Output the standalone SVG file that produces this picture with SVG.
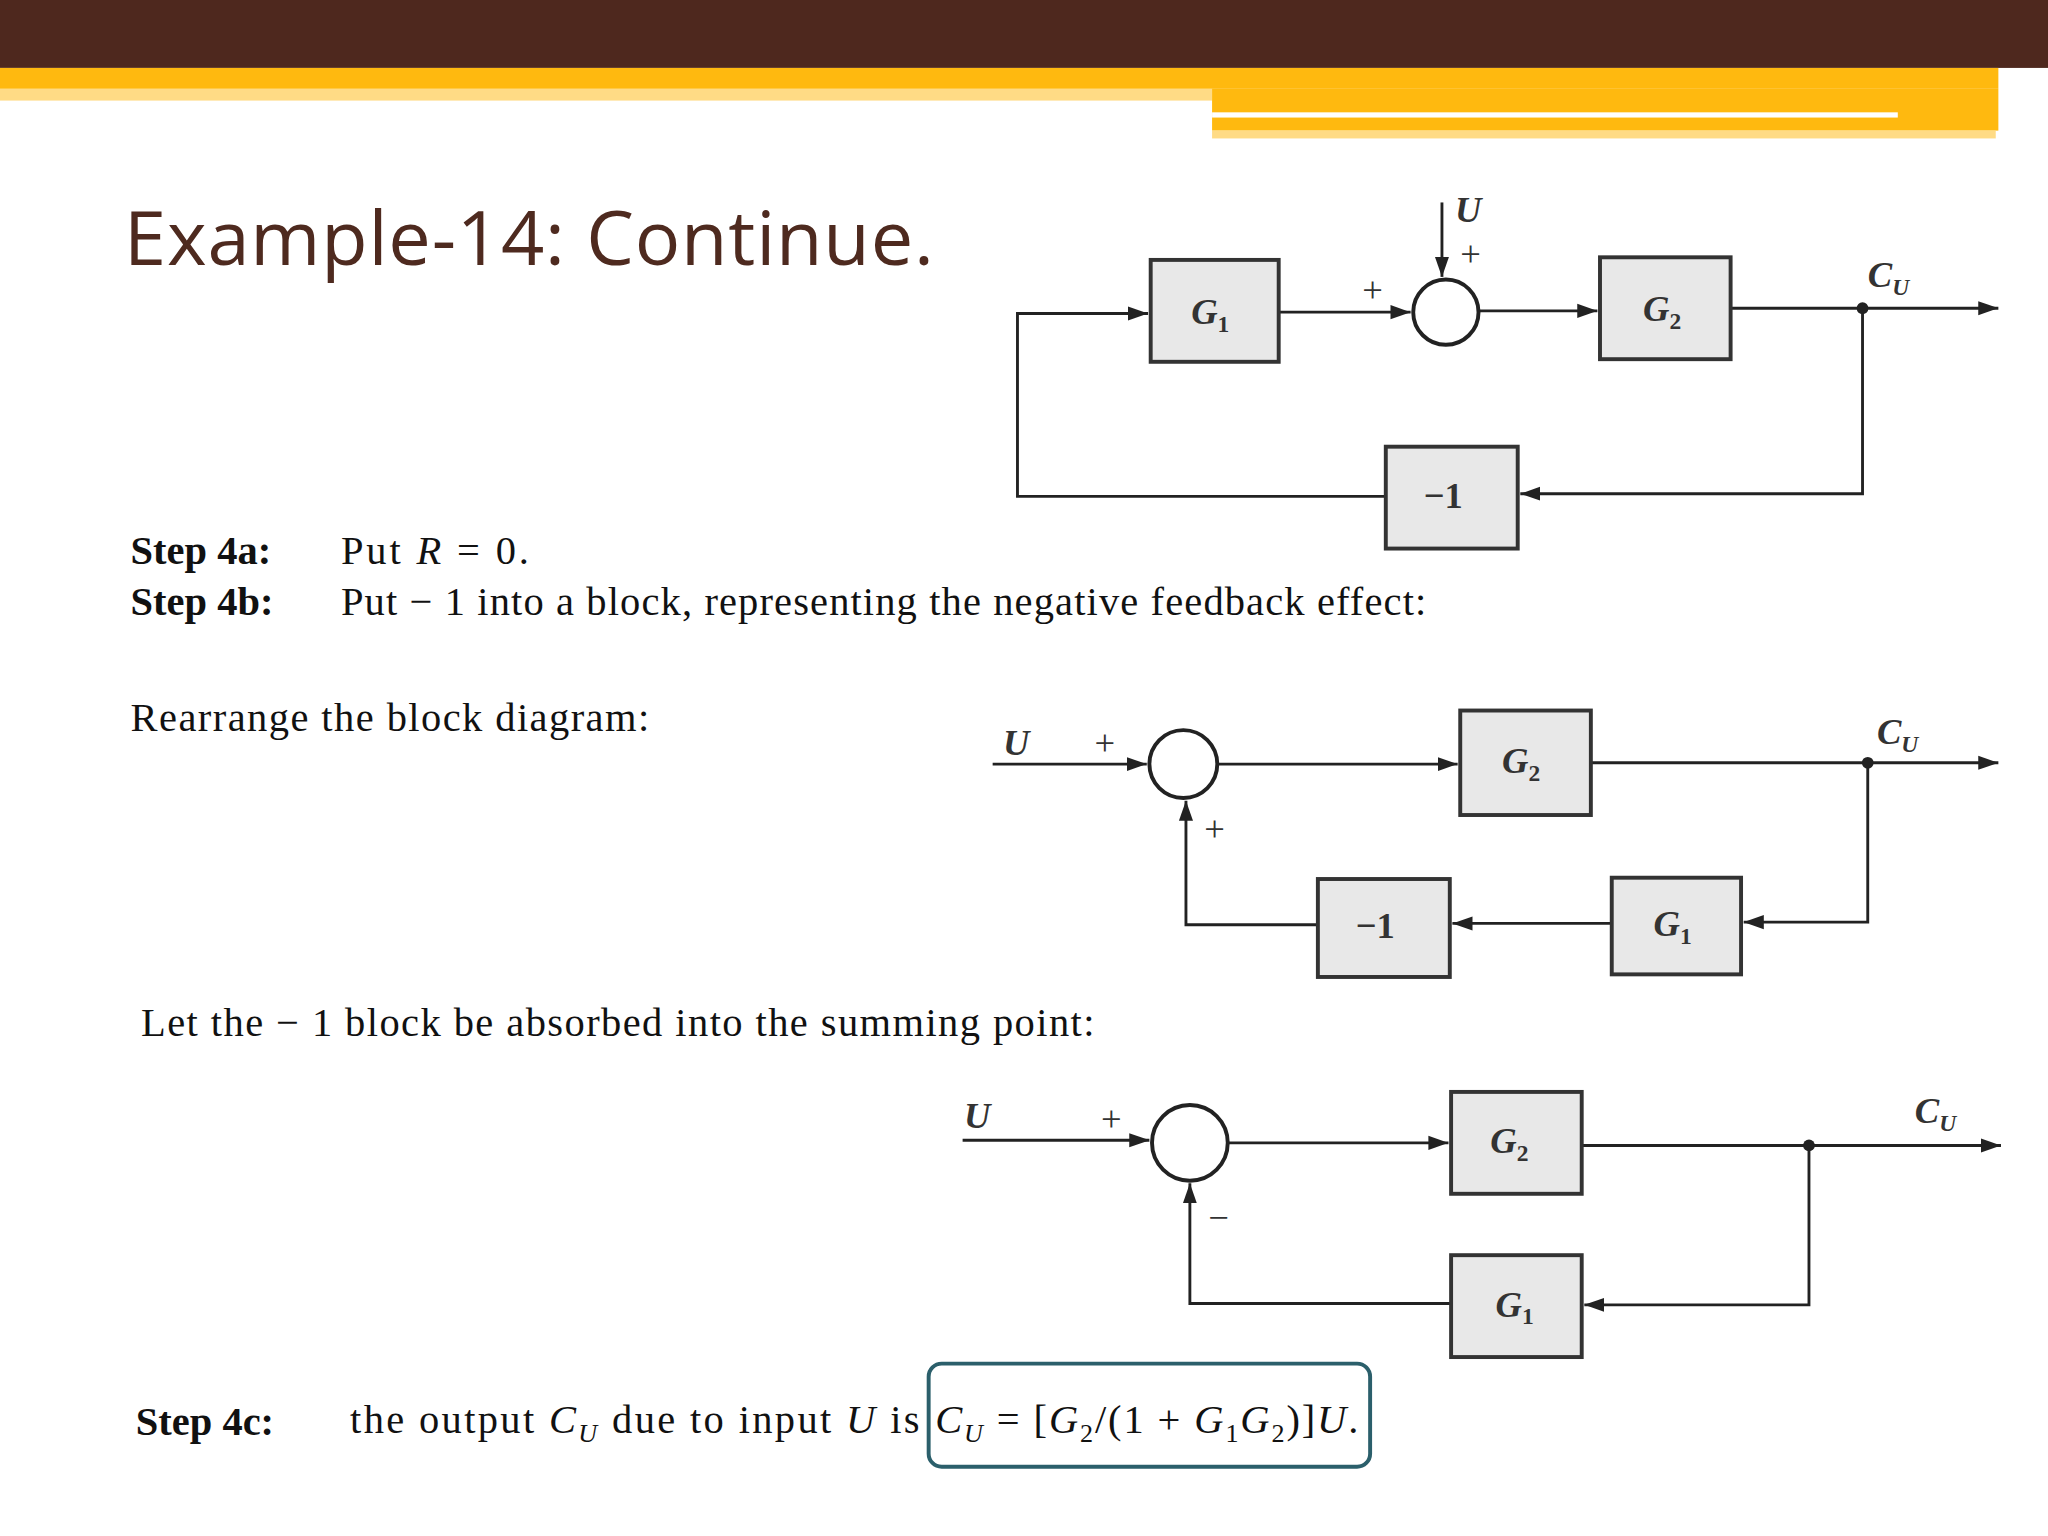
<svg xmlns="http://www.w3.org/2000/svg" width="2048" height="1536" viewBox="0 0 2048 1536">
<defs>
<marker id="a" viewBox="0 0 10 10" refX="10" refY="5" markerWidth="7" markerHeight="7" orient="auto"><path d="M0,1.5 L10,5 L0,8.5 z" fill="#222"/></marker>
<style>
.ln{fill:none;stroke:#222;stroke-width:2.2}
.bx{fill:#e8e8e8;stroke:#333;stroke-width:3}
.ci{fill:#fff;stroke:#222;stroke-width:3}
.lb{font-family:"Liberation Serif",serif;font-style:italic;font-weight:bold;font-size:28px;fill:#333}
.lb tspan.n{font-style:normal}
.sg{font-family:"Liberation Serif",serif;font-size:28px;fill:#333}
.tx{font-family:"Liberation Serif",serif;font-size:31px;fill:#111}
.st{font-family:"Liberation Serif",serif;font-size:31px;font-weight:bold;fill:#111}
</style>
</defs>
<rect width="2048" height="1536" fill="#fff"/>
<g transform="scale(1.30612)">
<g id="banner">
<rect x="0" y="0" width="1568" height="52" fill="#4e281e"/>
<rect x="0" y="52" width="1530" height="16" fill="#ffb90f"/>
<rect x="0" y="68" width="928" height="9" fill="#ffdb85"/>
<rect x="928" y="68" width="602" height="32" fill="#ffb90f"/>
<rect x="928" y="100" width="600" height="6" fill="#ffdb85"/>
<rect x="928" y="86" width="525" height="4" fill="#fff"/>
</g>
<text x="95" y="203" font-family="Open Sans, sans-serif" font-size="58" fill="#4e2a1f" textLength="620">Example-14: Continue.</text>
<g id="connectors">
<path class="ln" d="M979,239 H1080" marker-end="url(#a)"/>
<path class="ln" d="M1104,155 V212" marker-end="url(#a)"/>
<path class="ln" d="M1132,238 H1223" marker-end="url(#a)"/>
<path class="ln" d="M1325,236 H1530" marker-end="url(#a)"/>
<path class="ln" d="M1426,236 V378 H1164" marker-end="url(#a)"/>
<path class="ln" d="M1061,380 H779 V240 H879" marker-end="url(#a)"/>
<path class="ln" d="M760,585 H878" marker-end="url(#a)"/>
<path class="ln" d="M932,585 H1116" marker-end="url(#a)"/>
<path class="ln" d="M1218,584 H1530" marker-end="url(#a)"/>
<path class="ln" d="M1430,584 V706 H1335" marker-end="url(#a)"/>
<path class="ln" d="M1234,707 H1112" marker-end="url(#a)"/>
<path class="ln" d="M1009,708 H908 V613" marker-end="url(#a)"/>
<path class="ln" d="M737,873 H880" marker-end="url(#a)"/>
<path class="ln" d="M940,875 H1109" marker-end="url(#a)"/>
<path class="ln" d="M1211,877 H1532" marker-end="url(#a)"/>
<path class="ln" d="M1385,877 V999 H1213" marker-end="url(#a)"/>
<path class="ln" d="M1111,998 H911 V906" marker-end="url(#a)"/>
<circle cx="1426" cy="236" r="4.5" fill="#222"/>
<circle cx="1430" cy="584" r="4.5" fill="#222"/>
<circle cx="1385" cy="877" r="4.5" fill="#222"/>
</g>
<g id="d1">
<rect class="bx" x="881" y="199" width="98" height="78"/><text class="lb" x="912" y="248">G<tspan class="n" font-size="18" dy="6">1</tspan></text>
<circle class="ci" cx="1107" cy="239" r="25"/>
<rect class="bx" x="1225" y="197" width="100" height="78"/><text class="lb" x="1258" y="246">G<tspan class="n" font-size="18" dy="6">2</tspan></text>
<rect class="bx" x="1061" y="342" width="101" height="78"/><text class="lb" x="1090" y="389" style="font-style:normal">−1</text>
<text class="lb" x="1114" y="170">U</text><text class="sg" x="1118" y="204">+</text><text class="sg" x="1043" y="231">+</text>
<text class="lb" x="1430" y="220">C<tspan font-size="18" dy="6">U</tspan></text>
</g>
<g id="d2">
<circle class="ci" cx="906" cy="585" r="26"/>
<rect class="bx" x="1118" y="544" width="100" height="80"/><text class="lb" x="1150" y="592">G<tspan class="n" font-size="18" dy="6">2</tspan></text>
<rect class="bx" x="1234" y="672" width="99" height="74"/><text class="lb" x="1266" y="717">G<tspan class="n" font-size="18" dy="6">1</tspan></text>
<rect class="bx" x="1009" y="673" width="101" height="75"/><text class="lb" x="1038" y="718" style="font-style:normal">−1</text>
<text class="lb" x="768" y="578">U</text><text class="sg" x="838" y="578">+</text><text class="sg" x="922" y="644">+</text>
<text class="lb" x="1437" y="570">C<tspan font-size="18" dy="6">U</tspan></text>
</g>
<g id="d3">
<circle class="ci" cx="911" cy="875" r="29"/>
<rect class="bx" x="1111" y="836" width="100" height="78"/><text class="lb" x="1141" y="883">G<tspan class="n" font-size="18" dy="6">2</tspan></text>
<rect class="bx" x="1111" y="961" width="100" height="78"/><text class="lb" x="1145" y="1008">G<tspan class="n" font-size="18" dy="6">1</tspan></text>
<text class="lb" x="738" y="864">U</text><text class="sg" x="843" y="866">+</text><text class="sg" x="925" y="942">−</text>
<text class="lb" x="1466" y="860">C<tspan font-size="18" dy="6">U</tspan></text>
</g>
<g id="texts">
<text class="st" x="100" y="432">Step 4a:</text><text class="tx" x="261" y="432" textLength="144">Put  <tspan font-style="italic">R</tspan> = 0.</text>
<text class="st" x="100" y="471">Step 4b:</text><text class="tx" x="261" y="471" textLength="831">Put  − 1 into a block, representing the negative feedback effect:</text>
<text class="tx" x="100" y="560" textLength="397">Rearrange the block diagram:</text>
<text class="tx" x="108" y="793" textLength="730">Let the  − 1 block be absorbed into the summing point:</text>
<text class="st" x="104" y="1099">Step 4c:</text>
<text class="tx" x="268" y="1097" textLength="436">the output <tspan font-style="italic">C<tspan font-size="20" dy="7">U</tspan></tspan><tspan dy="-7"> due to input </tspan><tspan font-style="italic">U</tspan> is</text>
<text class="tx" x="716" y="1097" textLength="324"><tspan font-style="italic">C<tspan font-size="20" dy="7">U</tspan></tspan><tspan dy="-7"> = [</tspan><tspan font-style="italic">G</tspan><tspan font-size="20" dy="7">2</tspan><tspan dy="-7">/(1 + </tspan><tspan font-style="italic">G</tspan><tspan font-size="20" dy="7">1</tspan><tspan dy="-7" font-style="italic">G</tspan><tspan font-size="20" dy="7">2</tspan><tspan dy="-7">)]</tspan><tspan font-style="italic">U</tspan>.</text>
<rect x="711" y="1044" width="338" height="79" rx="10" fill="none" stroke="#2b5f6b" stroke-width="3"/>
</g>
</g>
</svg>
